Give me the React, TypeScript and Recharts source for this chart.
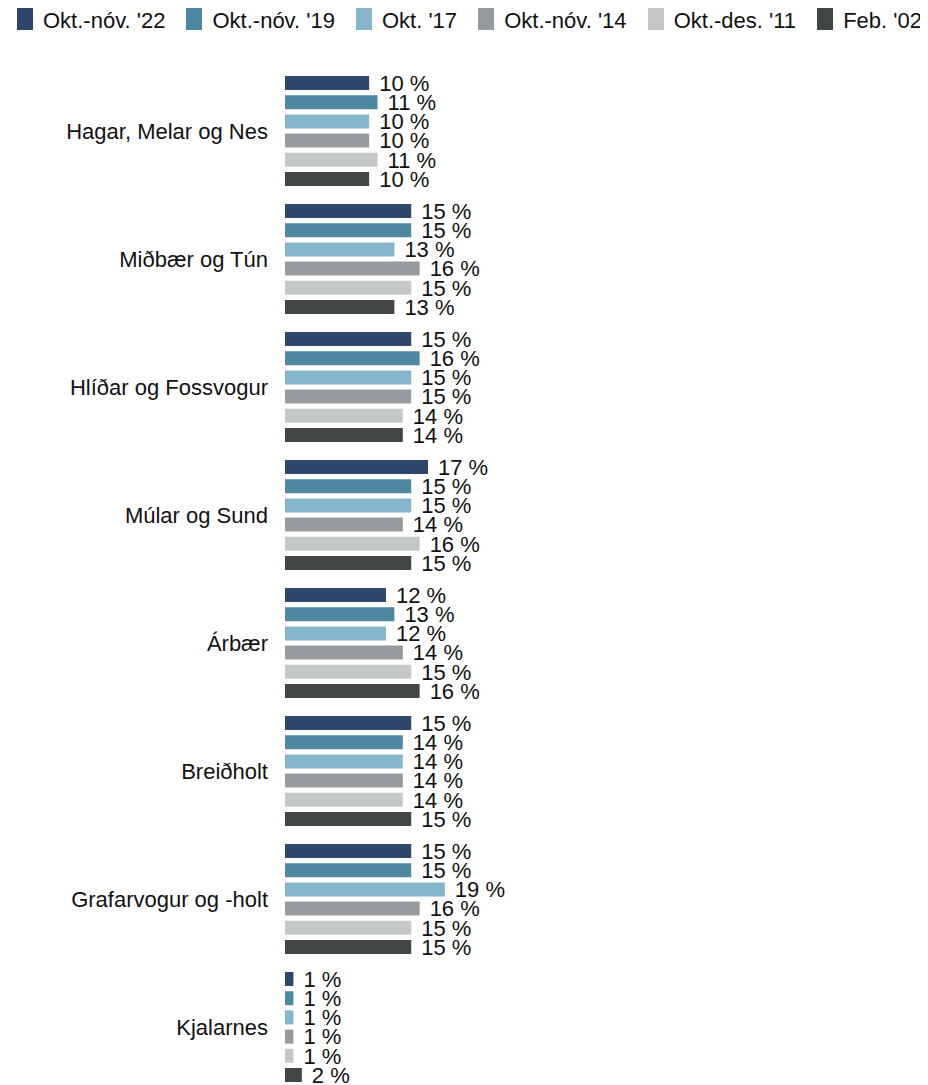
import { BarChart, Bar, XAxis, YAxis, Legend, LabelList } from 'recharts'

const areas = [
  'Hagar, Melar og Nes',
  'Miðbær og Tún',
  'Hlíðar og Fossvogur',
  'Múlar og Sund',
  'Árbær',
  'Breiðholt',
  'Grafarvogur og -holt',
  'Kjalarnes',
]

const okt22 = [10, 15, 15, 17, 12, 15, 15, 1]
const okt19 = [11, 15, 16, 15, 13, 14, 15, 1]
const okt17 = [10, 13, 15, 15, 12, 14, 19, 1]
const okt14 = [10, 16, 15, 14, 14, 14, 16, 1]
const okt11 = [11, 15, 14, 16, 15, 14, 15, 1]
const feb02 = [10, 13, 14, 15, 16, 15, 15, 2]

const seriesNames = ["Okt.-nóv. '22", "Okt.-nóv. '19", "Okt. '17", "Okt.-nóv. '14", "Okt.-des. '11", "Feb. '02"]
const seriesKeys = ['s22', 's19', 's17', 's14', 's11', 's02']
const colors = ['#2f4569', '#4f88a3', '#86b6cc', '#959a9c', '#c3c8c7', '#414642']

const data = areas.map((name, i) => ({
  name,
  s22: okt22[i],
  s19: okt19[i],
  s17: okt17[i],
  s14: okt14[i],
  s11: okt11[i],
  s02: feb02[i],
}))

const font = '"Liberation Sans", Arial, sans-serif'

function LegendRow() {
  return (
    <div
      style={{
        height: 59,
        width: 905,
        boxSizing: 'border-box',
        display: 'flex',
        justifyContent: 'space-between',
        alignItems: 'flex-start',
        marginLeft: 9,
        fontFamily: font,
        fontSize: 22,
        lineHeight: '26px',
        color: '#111',
        whiteSpace: 'nowrap',
      }}
    >
      {seriesNames.map((n, i) => (
        <div key={n} style={{ display: 'flex', alignItems: 'flex-start', height: 26 }}>
          <span style={{ width: 16, height: 24, background: colors[i], marginRight: 10, marginTop: -2, display: 'inline-block' }} />
          <span>{n}</span>
        </div>
      ))}
    </div>
  )
}

export default function App() {
  return (
    <BarChart
      width={920}
      height={1088}
      data={data}
      layout="vertical"
      margin={{ top: 0, right: 54, bottom: 5, left: 0 }}
      barSize={14}
      barGap={5.2}
    >
      <Legend verticalAlign="top" align="left" content={() => <LegendRow />} wrapperStyle={{ top: 0, left: 0, width: 920 }} />
      <XAxis type="number" domain={[0, 70]} hide />
      <YAxis
        type="category"
        dataKey="name"
        width={277}
        axisLine={false}
        tickLine={false}
        tickMargin={11}
        tick={{ fontSize: 22, fill: '#111', fontFamily: font }}
      />
      {seriesKeys.map((k, i) => (
        <Bar key={k} dataKey={k} name={seriesNames[i]} fill={colors[i]} isAnimationActive={false}>
          <LabelList
            dataKey={k}
            position="right"
            offset={10}
            formatter={(v: any) => `${v} %`}
            style={{ fontSize: 22, fill: '#111', fontFamily: font }}
          />
        </Bar>
      ))}
    </BarChart>
  )
}
